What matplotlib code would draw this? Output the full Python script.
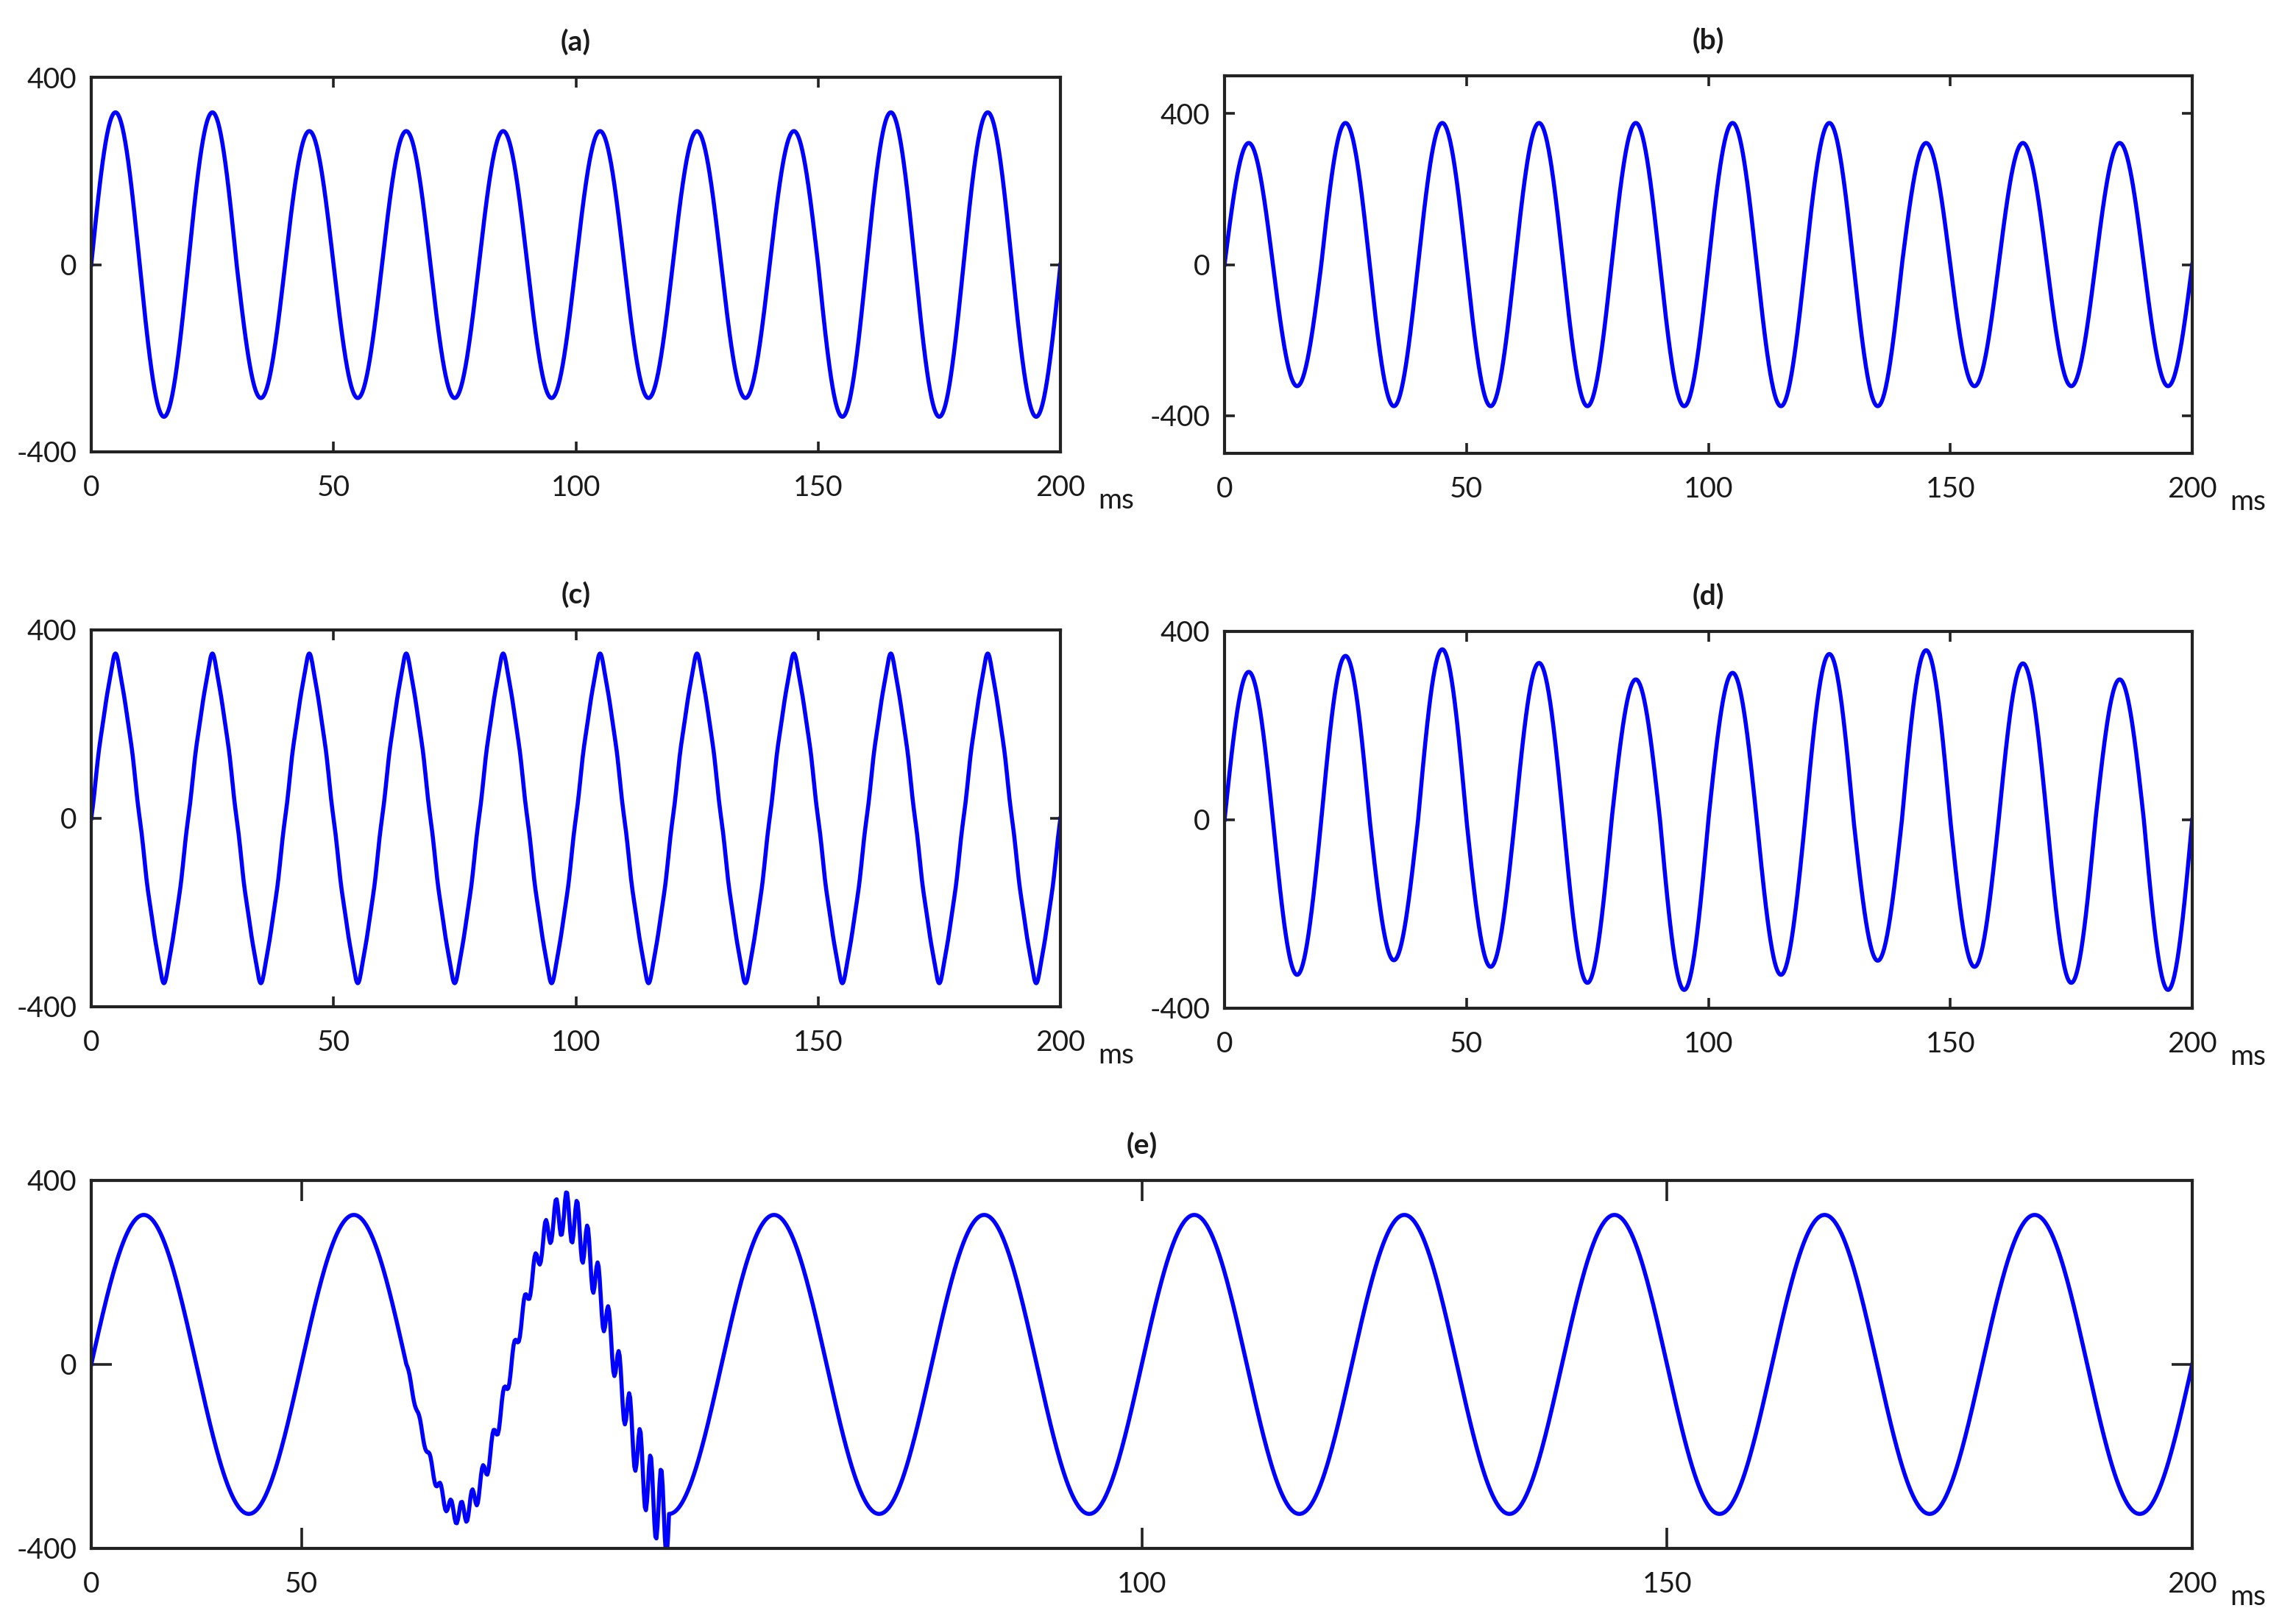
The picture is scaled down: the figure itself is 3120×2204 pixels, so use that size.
import numpy as np
import matplotlib
matplotlib.use("Agg")
import matplotlib.pyplot as plt

# ---------------- data ----------------
PANEL_TITLES = ["(a)", "(b)", "(c)", "(d)", "(e)"]
T_END_MS = 200
FUND_HZ = 50
SAMPLE_STEP_MS = 0.1

# peak magnitude of each half cycle (20 half cycles of 10 ms)
SAG_HALF_CYCLE_PEAKS = [325, 325, 325, 285, 285, 285, 285, 285, 285, 285,
                        285, 285, 285, 285, 285, 325, 325, 325, 325, 325]
SWELL_HALF_CYCLE_PEAKS = [322, 322, 375, 375, 375, 375, 375, 375, 375, 375,
                          375, 375, 375, 375, 322, 322, 322, 322, 322, 322]
FLICKER_HALF_CYCLE_PEAKS = [314, 329, 348, 298, 362, 312, 333, 346, 298, 361,
                            312, 329, 352, 299, 360, 312, 332, 346, 298, 361]
HARMONIC_ORDERS = [1, 3, 5, 7, 9, 11]
HARMONIC_AMPS = [318, -16, 8, -5, 0, -3]
NOMINAL_PEAK = 325
TRANSIENT_START_MS = 30
TRANSIENT_FREQ_HZ = 1000
TRANSIENT_CYCLE_AMPS = [8, 10, 14, 18, 22, 26, 28, 26, 24, 22,
                        22, 24, 28, 36, 44, 52, 56, 54, 50, 48,
                        52, 60, 70, 80, 90]

X_TICKS = [0, 50, 100, 150, 200]
X_TICKS_E_POS = [0, 20, 100, 150, 200]
X_TICK_LABELS = ["0", "50", "100", "150", "200"]
Y_TICKS = [-400, 0, 400]
Y_TICK_LABELS = ["-400", "0", "400"]

# ---------------- signals ----------------
t = np.arange(0, T_END_MS + 1e-9, SAMPLE_STEP_MS)
w = 2 * np.pi * FUND_HZ / 1000.0
base = np.sin(w * t)
half_idx = np.minimum((t // 10).astype(int), 19)

sig_a = np.array(SAG_HALF_CYCLE_PEAKS)[half_idx] * base
sig_b = np.array(SWELL_HALF_CYCLE_PEAKS)[half_idx] * base
sig_d = np.array(FLICKER_HALF_CYCLE_PEAKS)[half_idx] * base
sig_c = np.zeros_like(t)
for h, a in zip(HARMONIC_ORDERS, HARMONIC_AMPS):
    sig_c += a * np.sin(h * w * t)
sig_e = NOMINAL_PEAK * base
n_tr = len(TRANSIENT_CYCLE_AMPS)
tr_mask = (t >= TRANSIENT_START_MS) & (t < TRANSIENT_START_MS + n_tr * 1000.0 / TRANSIENT_FREQ_HZ)
cyc = ((t[tr_mask] - TRANSIENT_START_MS) * TRANSIENT_FREQ_HZ / 1000.0).astype(int)
sig_e[tr_mask] += np.array(TRANSIENT_CYCLE_AMPS)[cyc] * np.sin(
    2 * np.pi * TRANSIENT_FREQ_HZ / 1000.0 * (t[tr_mask] - TRANSIENT_START_MS))

# ---------------- figure ----------------
plt.rcParams["font.family"] = ["Lato", "DejaVu Sans"]
W, H = 3120, 2204
fig = plt.figure(figsize=(W / 200, H / 200), dpi=200)


def ax_px(l, r, top, bot):
    return fig.add_axes([l / W, 1 - bot / H, (r - l) / W, (bot - top) / H])


axes = [
    ax_px(124, 1441, 105, 614),
    ax_px(1664, 2979, 103, 616),
    ax_px(124, 1441, 856, 1368),
    ax_px(1664, 2979, 858, 1370),
    ax_px(124, 2979, 1604, 2104),
]
signals = [sig_a, sig_b, sig_c, sig_d, sig_e]
ylims = [(-400, 400), (-500, 500), (-400, 400), (-400, 400), (-400, 400)]

for i, (ax, s, title) in enumerate(zip(axes, signals, PANEL_TITLES)):
    ax.plot(t, s, color="#0000ff", lw=2.0, clip_on=True)
    ax.set_xlim(0, T_END_MS)
    ax.set_ylim(*ylims[i])
    if i == 4:
        ax.set_xticks(X_TICKS_E_POS)
        tl = 10
    else:
        ax.set_xticks(X_TICKS)
        tl = 5
    ax.set_xticklabels(X_TICK_LABELS)
    ax.set_yticks(Y_TICKS)
    ax.set_yticklabels(Y_TICK_LABELS)
    ax.tick_params(direction="in", top=True, right=True, length=tl, width=1.3,
                   colors="#222222", labelcolor="#1a1a1a", labelsize=14)
    ax.tick_params(axis="x", pad=11)
    ax.tick_params(axis="y", pad=7)
    for sp in ax.spines.values():
        sp.set_linewidth(1.5)
        sp.set_color("#222222")
    ax.set_title(title, fontsize=14, fontweight="bold", pad=13, color="#1a1a1a")
    ax.annotate("ms", xy=(1, 0), xycoords="axes fraction", xytext=(76, -66),
                textcoords="offset pixels", ha="center", va="center",
                fontsize=14, color="#1a1a1a")

fig.savefig("out.png", dpi=200, facecolor="white")
